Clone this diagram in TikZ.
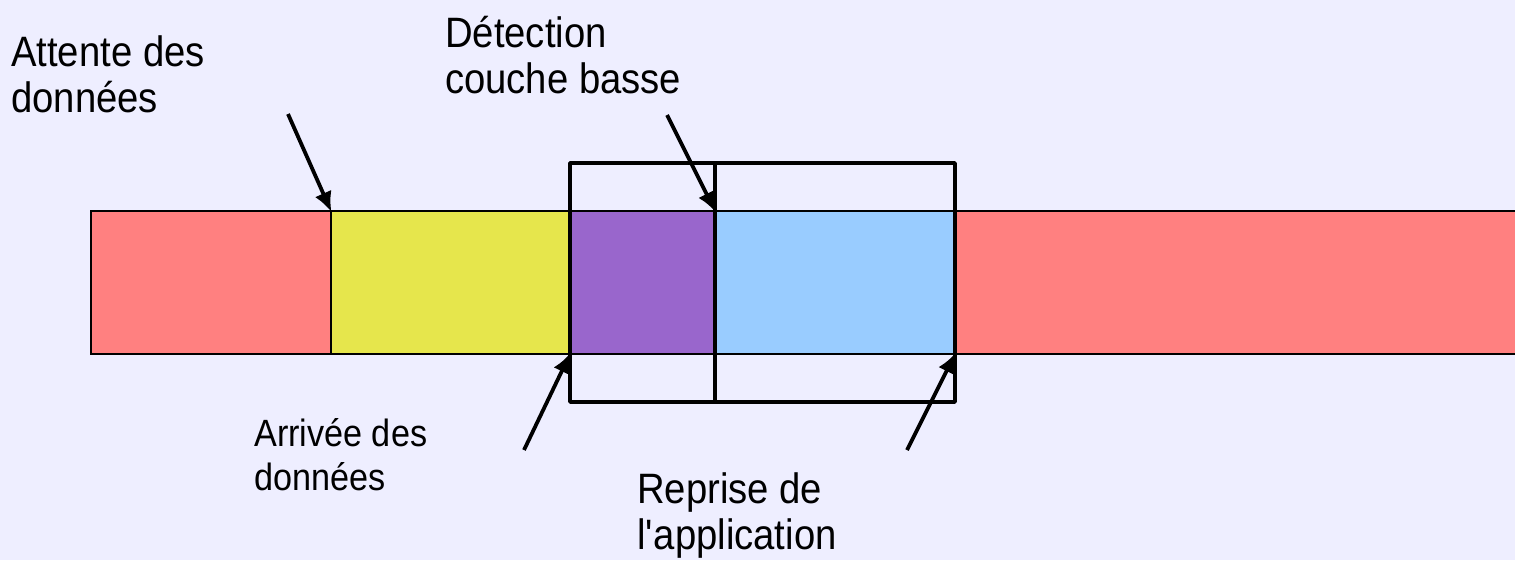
\documentclass[tikz,border=0pt]{standalone}
\usepackage{fontspec}
\setmainfont[FakeStretch=0.9]{Liberation Sans}
\usetikzlibrary{arrows.meta}

\definecolor{pagebg}{RGB}{238,238,255}
\definecolor{segred}{RGB}{255,128,128}
\definecolor{segyellow}{RGB}{230,230,76}
\definecolor{segpurple}{RGB}{153,102,204}
\definecolor{segblue}{RGB}{153,204,255}

\tikzset{
  seg/.style={draw=black, line width=2pt, inner sep=0pt, outer sep=0pt,
              minimum height=143pt, anchor=north west},
  frameline/.style={draw=black, line width=3.5pt, line join=round},
  pointer/.style={draw=black, line width=3.8pt,
                  -{Latex[length=20pt,width=18pt]}, shorten >=-1pt},
  biglabel/.style={inner sep=0pt, anchor=base west, align=left,
                   font=\fontsize{42.5}{46}\selectfont},
  smalllabel/.style={inner sep=0pt, anchor=base west, align=left,
                     font=\fontsize{38}{44}\selectfont},
}

\begin{document}
\begin{tikzpicture}[x=1pt, y=-1pt]
  % page background and fixed frame
  \fill[pagebg] (0,0) rectangle (1515,560);
  \useasboundingbox (0,0) rectangle (1515,560);

  % time line split into phases
  \node[seg, fill=segred,    minimum width=240pt] (s1) at (91,211)  {};
  \node[seg, fill=segyellow, minimum width=239pt] (s2) at (331,211) {};
  \node[seg, fill=segpurple, minimum width=145pt] (s3) at (570,211) {};
  \node[seg, fill=segblue,   minimum width=240pt] (s4) at (715,211) {};
  \node[seg, fill=segred,    minimum width=580pt] (s5) at (955,211) {};

  % outline around the detection / resume phases
  \draw[frameline] (570,163) rectangle (955,402);
  \draw[frameline] (715,163) -- (715,402);

  % labels (anchored on the baseline of their last line)
  \node[biglabel]   (attente)   at (11,112)  {Attente des\\données};
  \node[biglabel]   (detection) at (445,93)  {Détection\\couche basse};
  \node[smalllabel] (arrivee)   at (254,490) {Arrivée des\\données};
  \node[biglabel]   (reprise)   at (637,549) {Reprise de\\l\textquotesingle application};

  % arrow tails
  \coordinate (t1) at (288,114);
  \coordinate (t2) at (667,115);
  \coordinate (t3) at (524,450);
  \coordinate (t4) at (907,450);

  % pointers to phase boundaries
  \draw[pointer] (t1) -- (s2.north west);
  \draw[pointer] (t2) -- (s4.north west);
  \draw[pointer] (t3) -- (s3.south west);
  \draw[pointer] (t4) -- (s5.south west);
\end{tikzpicture}
\end{document}
